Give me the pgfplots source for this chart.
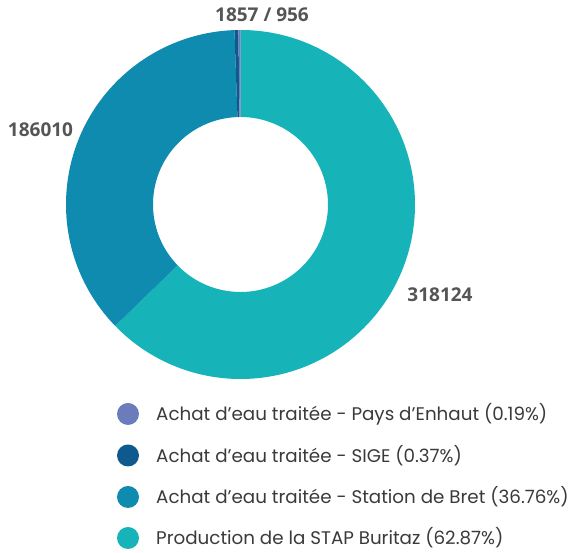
\documentclass[border=0pt]{standalone}
\usepackage{pgfplots}
\usepackage{pgfplotstable}
\usepackage{fontspec}
\setmainfont{Open Sans}
\newfontfamily\legfont{Poppins}
\pgfplotsset{compat=1.18}
\definecolor{cPays}{HTML}{6A7CBA}
\definecolor{cSige}{HTML}{0E5A8C}
\definecolor{cBret}{HTML}{108BB0}
\definecolor{cProd}{HTML}{16B4B8}
\definecolor{numgray}{HTML}{555555}
\definecolor{leggray}{HTML}{3A3A3A}
% slices, clockwise from 12 o'clock
\pgfplotstableread{
name value
Prod 318124
Bret 186010
Sige 1857
Pays 956
}\slices
\pgfplotstablegetelem{0}{value}\of\slices \let\vA\pgfplotsretval
\pgfplotstablegetelem{1}{value}\of\slices \let\vB\pgfplotsretval
\pgfplotstablegetelem{2}{value}\of\slices \let\vC\pgfplotsretval
\pgfplotstablegetelem{3}{value}\of\slices \let\vD\pgfplotsretval
\edef\tot{\fpeval{\vA+\vB+\vC+\vD}}
\def\aA{90}
\edef\aB{\fpeval{round(90-360*\vA/\tot,4)}}
\edef\aC{\fpeval{round(\aB-360*\vB/\tot,4)}}
\edef\aD{\fpeval{round(\aC-360*\vC/\tot,4)}}
\def\aE{-270}
\def\cx{240.5}\def\cy{348.5}\def\Ro{174.5pt}\def\Ri{87.5pt}
\newcommand\donutslice[3]{%
  \fill[#3] ([shift={(#1:\Ro)}]axis cs:\cx,\cy) arc[start angle=#1,end angle=#2,radius=\Ro]
    -- ([shift={(#2:\Ri)}]axis cs:\cx,\cy) arc[start angle=#2,end angle=#1,radius=\Ri] -- cycle;}
\newcommand\legitem[3]{%
  \fill[#2] (axis cs:128,#1) circle[radius=11pt];
  \node[anchor=west, inner sep=0pt, text=leggray, font=\legfont\fontsize{18.3}{20}\selectfont] at (axis cs:156,#1) {#3};}
\begin{document}
\begin{tikzpicture}
\begin{axis}[
  hide axis, x=1pt, y=1pt, scale only axis,
  xmin=0, xmax=571, ymin=0, ymax=553, clip=false,
]
\path (axis cs:0,0) rectangle (axis cs:571,553);
\donutslice{\aA}{\aB}{cProd}
\donutslice{\aB}{\aC}{cBret}
\donutslice{\aC}{\aD}{cSige}
\donutslice{\aD}{\aE}{cPays}
\node[font=\bfseries\fontsize{19}{21}\selectfont, text=numgray] at (axis cs:262,538) {1857 / 956};
\node[font=\bfseries\fontsize{19}{21}\selectfont, text=numgray] at (axis cs:40.5,423) {186010};
\node[font=\bfseries\fontsize{19}{21}\selectfont, text=numgray] at (axis cs:440,258) {318124};
\legitem{139}{cPays}{Achat d’eau traitée - Pays d’Enhaut (0.19\%)}
\legitem{97.5}{cSige}{Achat d’eau traitée - SIGE (0.37\%)}
\legitem{56}{cBret}{Achat d’eau traitée - Station de Bret (36.76\%)}
\legitem{15}{cProd}{Production de la STAP Buritaz (62.87\%)}
\end{axis}
\end{tikzpicture}
\end{document}
